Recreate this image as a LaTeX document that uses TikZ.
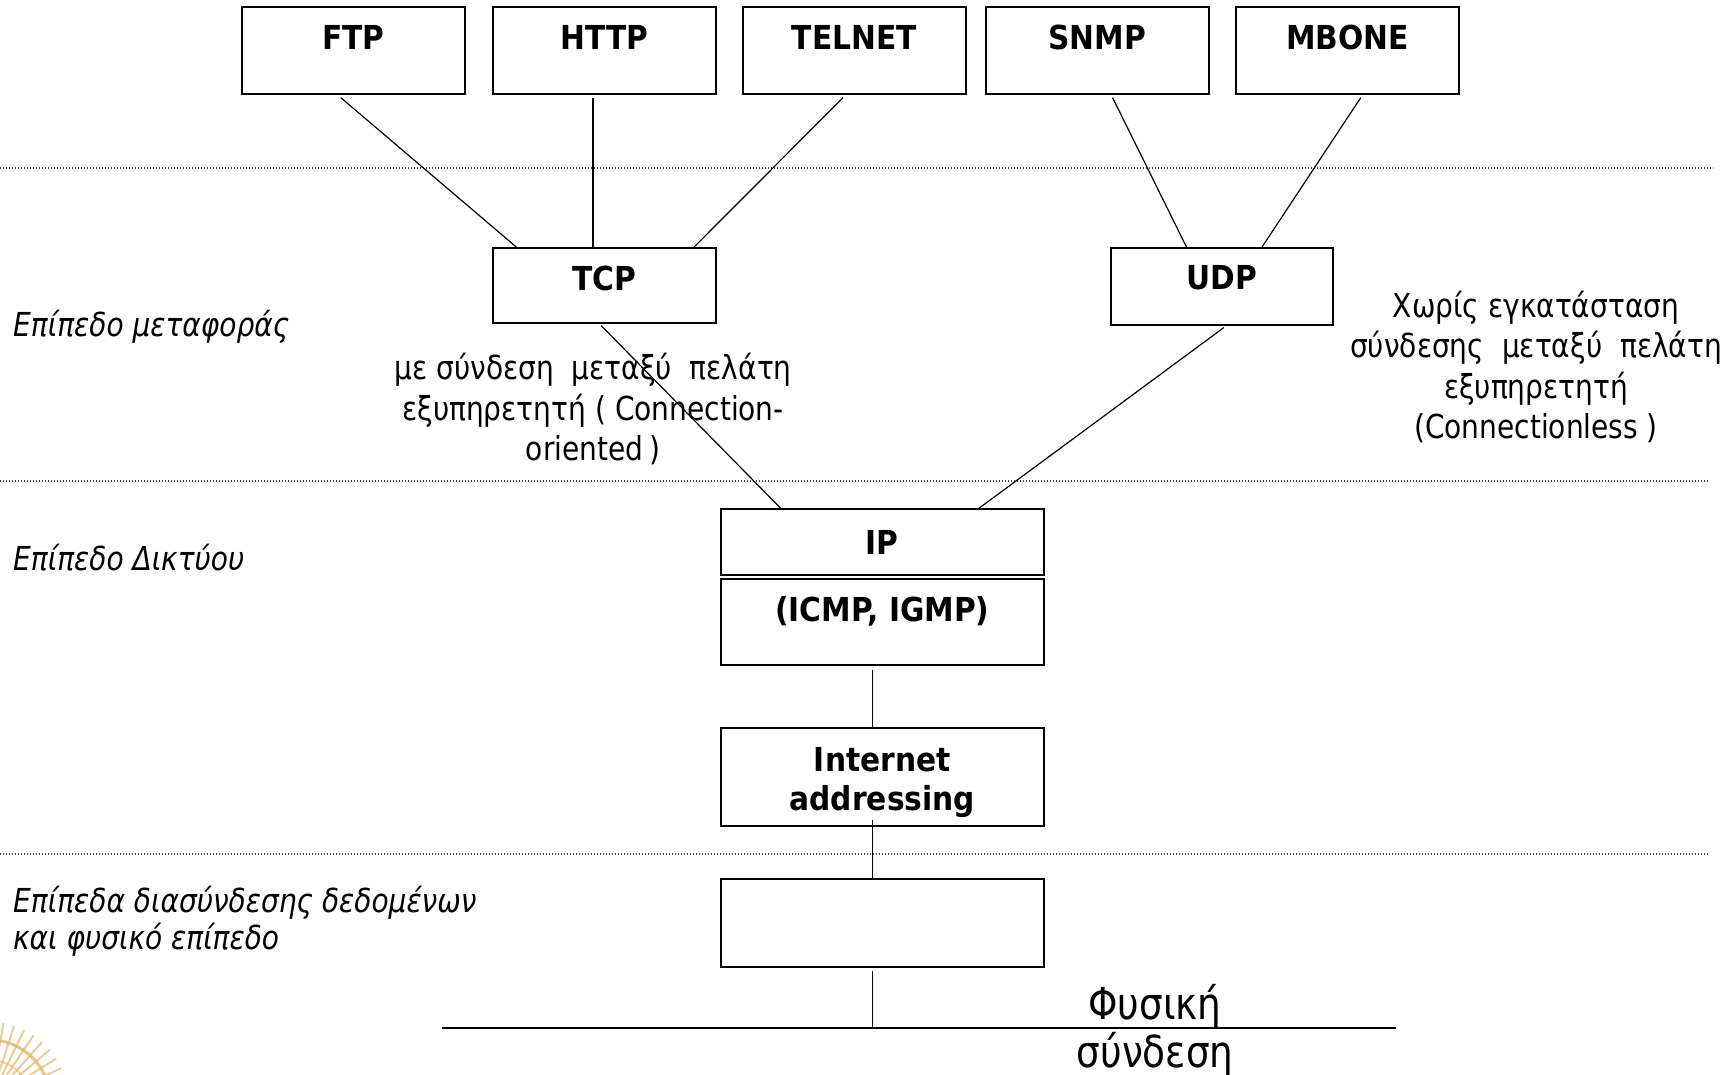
\documentclass[tikz,border=0pt]{standalone}
\usepackage{fontspec}
\setmainfont{DejaVu Sans}[FakeStretch=0.85]
\newfontfamily\boxfont{DejaVu Sans}[FakeStretch=0.9]
\usetikzlibrary{calc}
\definecolor{emblem}{HTML}{E2B866}
\begin{document}
\begin{tikzpicture}[x=1pt,y=-1pt,
  box/.style={draw, line width=1.6pt, anchor=north west, inner sep=0pt},
  appbox/.style={box, minimum width=223pt, minimum height=87pt},
  netbox/.style={box, minimum width=323pt},
  btxt/.style={font=\fontsize{33}{38}\boxfont\bfseries, inner sep=0pt, align=center},
  note/.style={font=\fontsize{33}{40.5}\selectfont, inner sep=0pt, align=center},
  layer/.style={font=\fontsize{33}{37}\selectfont\itshape, inner sep=0pt, align=left, anchor=west},
  wire/.style={line width=1.2pt},
  sep/.style={line width=1.3pt, black!75, dash pattern=on 1.3pt off 1.7pt}
]
\useasboundingbox (0,0) rectangle (1733,1075);

% layer separators
\draw[sep] (0,168) -- (1713,168);
\draw[sep] (0,481) -- (1708,481);
\draw[sep] (0,854) -- (1708,854);

% application protocols
\node[appbox] (ftp)    at (241,6)  {};
\node[appbox] (http)   at (492,6)  {};
\node[appbox] (telnet) at (742,6)  {};
\node[appbox] (snmp)   at (985,6)  {};
\node[appbox] (mbone)  at (1235,6) {};
\node[btxt] (ftpt)    at ([yshift=-31]ftp.north)    {FTP};
\node[btxt] (httpt)   at ([yshift=-31]http.north)   {HTTP};
\node[btxt] (telnett) at ([yshift=-31]telnet.north) {TELNET};
\node[btxt] (snmpt)   at ([yshift=-31]snmp.north)   {SNMP};
\node[btxt] (mbonet)  at ([yshift=-31]mbone.north)  {MBONE};

% transport protocols
\node[box, minimum width=223pt, minimum height=75pt] (tcp) at (492,247) {};
\node[box, minimum width=222pt, minimum height=77pt] (udp) at (1110,247) {};
\node[btxt] (tcpt) at ([yshift=-31]tcp.north) {TCP};
\node[btxt] (udpt) at ([yshift=-31]udp.north) {UDP};

% network layer
\node[netbox, minimum height=66pt] (ip)   at (720,508) {};
\node[netbox, minimum height=86pt] (icmp) at (720,578) {};
\node[netbox, minimum height=98pt] (addr) at (720,727) {};
\node[netbox, minimum height=88pt] (link) at (720,878) {};
\node[btxt] (ipt)   at ([yshift=-34]ip.north)   {IP};
\node[btxt] (icmpt) at ([yshift=-33]icmp.north) {(ICMP, IGMP)};
\node[btxt, font=\fontsize{33}{39}\boxfont\bfseries] (addrt) at ([yshift=-56]addr.north) {Internet\\addressing};

% physical medium
\coordinate (busL) at (442,1028);
\coordinate (busR) at (1396,1028);
\draw[line width=2.2pt] (busL) -- (busR);

% connectors between protocol boxes
\draw[wire] ($(ftp.south west)!0.444!(ftp.south east)+(0,3)$)       -- ($(tcp.north west)!0.108!(tcp.north east)$);
\draw[wire] ($(http.south west)!0.450!(http.south east)+(0,3)$)     -- ($(tcp.north west)!0.450!(tcp.north east)$);
\draw[wire] ($(telnet.south west)!0.450!(telnet.south east)+(0,3)$) -- ($(tcp.north west)!0.900!(tcp.north east)$);
\draw[wire] ($(snmp.south west)!0.568!(snmp.south east)+(0,3)$)     -- ($(udp.north west)!0.342!(udp.north east)$);
\draw[wire] ($(mbone.south west)!0.560!(mbone.south east)+(0,3)$)   -- ($(udp.north west)!0.680!(udp.north east)$);
\draw[wire] ($(tcp.south west)!0.486!(tcp.south east)+(0,2)$) -- ($(ip.north west)!0.186!(ip.north east)$);
\draw[wire] ($(udp.south west)!0.509!(udp.south east)+(0,2)$) -- ($(ip.north west)!0.799!(ip.north east)$);
\draw[wire] ($(icmp.south west)!0.4706!(icmp.south east)+(0,4)$) -- ($(addr.north west)!0.4706!(addr.north east)$);
\draw[wire] ($(addr.south west)!0.4706!(addr.south east)+(0,-7)$) -- ($(link.north west)!0.4706!(link.north east)$);
\coordinate (linkfoot) at ($(link.south west)!0.4706!(link.south east)+(0,3)$);
\draw[wire] (linkfoot) -- (linkfoot |- busL);

% annotations
\node[note] (tcpnote) at (593,409) {με σύνδεση\ \ μεταξύ\ \ πελάτη\\εξυπηρετητή ( Connection-\\oriented\,)};
\node[note] (udpnote) at (1536,367) {Χωρίς εγκατάσταση\\σύνδεσης\ \ μεταξύ\ \ πελάτη\\εξυπηρετητή\\(Connectionless )};
\node[note, font=\fontsize{44}{48}\selectfont] (phys) at (1155,1030) {Φυσική\\σύνδεση};

% layer names
\node[layer] (transport) at (13,327) {Επίπεδο μεταφοράς};
\node[layer] (network)   at (13,558) {Επίπεδο Δικτύου};
\node[layer] (datalink)  at (13,921) {Επίπεδα διασύνδεσης δεδομένων\\και φυσικό επίπεδο};

% emblem in the lower left corner
\begin{scope}
  \clip (0,1000) rectangle (70,1075);
  \foreach \a in {-80,-72,...,10} {
    \draw[emblem, line width=2pt, opacity=0.7] (-10,1100) -- ++(\a:78);
  }
  \draw[emblem, line width=3pt, opacity=0.8] (-10,1100) circle (60pt);
  \draw[emblem, line width=2pt, opacity=0.6] (-10,1100) circle (40pt);
\end{scope}
\end{tikzpicture}
\end{document}
